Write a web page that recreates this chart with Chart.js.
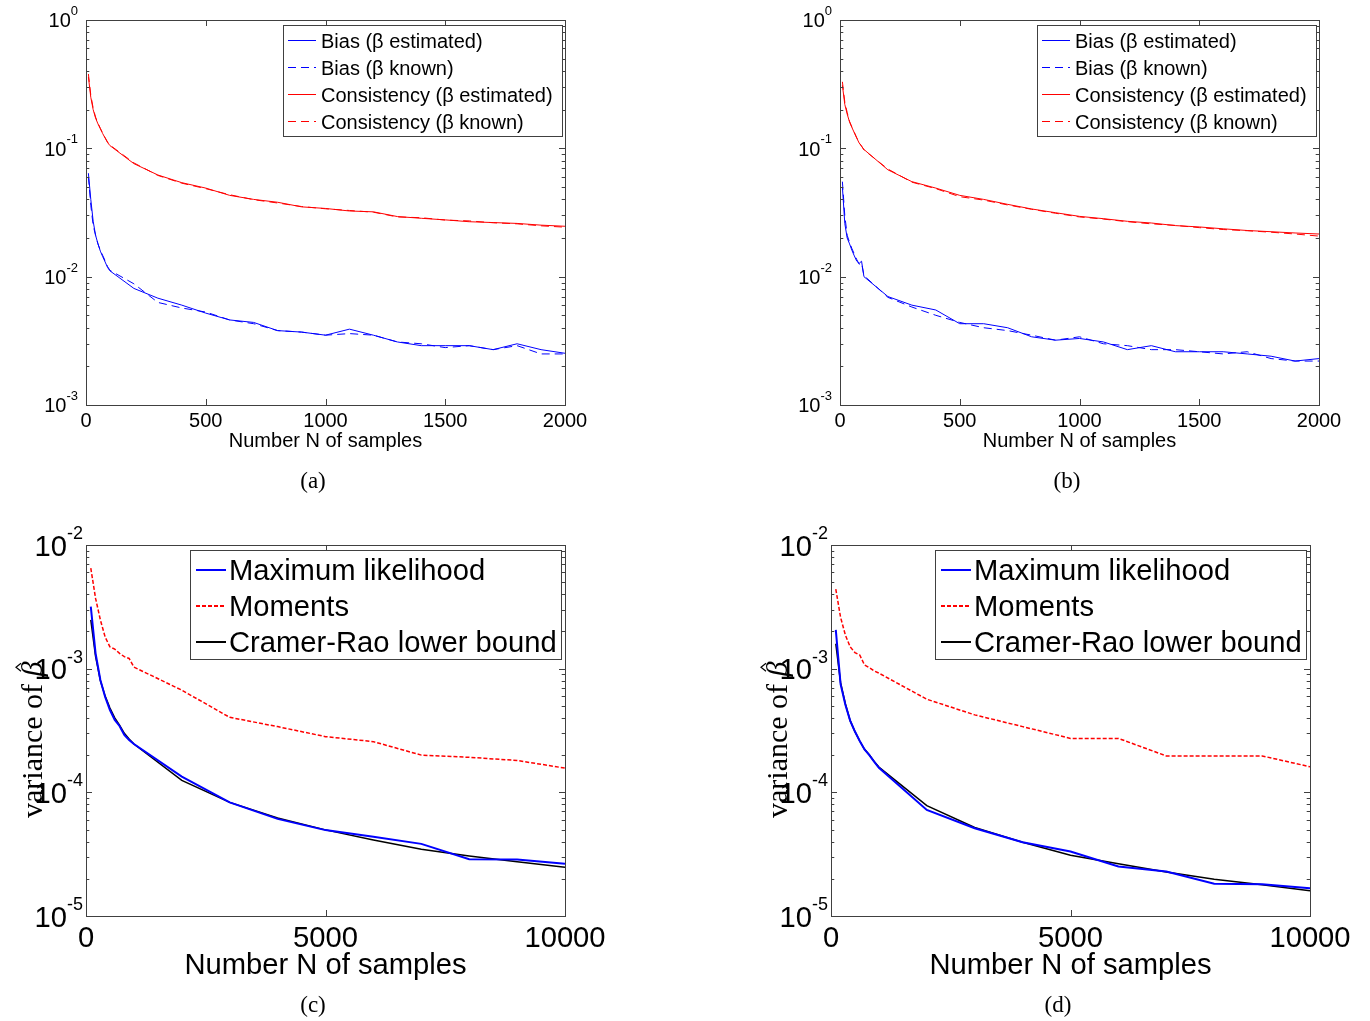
<!DOCTYPE html>
<html>
<head>
<meta charset="utf-8">
<script src="https://cdn.jsdelivr.net/npm/chart.js@4.4.1/dist/chart.umd.min.js"></script>
<style>
  body { margin: 0; background: #fff; width: 1370px; height: 1021px; position: relative; overflow: hidden; }
  canvas { position: absolute; }
  .cap { position: absolute; font-family: "Liberation Serif", "Times New Roman", serif; font-size: 23px; transform: translateX(-50%); line-height: 26px; }
</style>
</head>
<body>
<canvas id="pa" width="685" height="500" style="left:0;top:0"></canvas>
<canvas id="pb" width="685" height="500" style="left:685px;top:0"></canvas>
<canvas id="pc" width="685" height="521" style="left:0;top:500px"></canvas>
<canvas id="pd" width="685" height="521" style="left:685px;top:500px"></canvas>
<div class="cap" style="left:313px;top:468px">(a)</div>
<div class="cap" style="left:1067px;top:468px">(b)</div>
<div class="cap" style="left:313px;top:992px">(c)</div>
<div class="cap" style="left:1058px;top:992px">(d)</div>
<script>
// số mẫu N cho hình (a), (b)
const nAB = [10, 20, 30, 40, 50, 60, 70, 80, 90, 100, 200, 300, 400, 500, 600, 700, 800, 900, 1000,
  1100, 1200, 1300, 1400, 1500, 1600, 1700, 1800, 1900, 2000];

const biasEstA = [0.064, 0.040, 0.027, 0.021, 0.018, 0.0158, 0.0143, 0.013, 0.0118, 0.0111,
  0.0081, 0.0068, 0.0060, 0.0052, 0.0046, 0.0044, 0.0038, 0.0037, 0.0035,
  0.0039, 0.0035, 0.0031, 0.0029, 0.0029, 0.0029, 0.0027, 0.0030, 0.0027, 0.00253];
const biasKnownA = [0.060, 0.036, 0.025, 0.021, 0.018, 0.016, 0.0146, 0.0133, 0.012, 0.0112,
  0.0088, 0.0063, 0.0057, 0.0053, 0.0046, 0.0043, 0.0038, 0.0037, 0.0035,
  0.0036, 0.0035, 0.0031, 0.0030, 0.0028, 0.0029, 0.0027, 0.0029, 0.0025, 0.0025];
const consEstA = [0.36, 0.25, 0.20, 0.172, 0.155, 0.142, 0.13, 0.12, 0.111, 0.105,
  0.076, 0.062, 0.054, 0.049, 0.043, 0.040, 0.038, 0.035, 0.034,
  0.0325, 0.032, 0.0294, 0.0285, 0.0277, 0.0268, 0.0264, 0.026, 0.0252, 0.0247];
const consKnownA = [0.38, 0.26, 0.205, 0.175, 0.157, 0.143, 0.131, 0.121, 0.112, 0.106,
  0.077, 0.0615, 0.0535, 0.0485, 0.0435, 0.0398, 0.0375, 0.0352, 0.0338,
  0.0328, 0.0318, 0.0292, 0.0288, 0.0276, 0.0272, 0.0263, 0.0258, 0.0249, 0.0243];

const biasEstB = [0.050, 0.026, 0.020, 0.018, 0.016, 0.0145, 0.0132, 0.0127, 0.0132, 0.0100,
  0.0070, 0.0060, 0.0055, 0.0043, 0.0043, 0.0040, 0.0034, 0.0032, 0.0033,
  0.0031, 0.0027, 0.0029, 0.0026, 0.0026, 0.0026, 0.0025, 0.0024, 0.0022, 0.0023];
const biasKnownB = [0.055, 0.030, 0.021, 0.0185, 0.0165, 0.015, 0.0136, 0.0125, 0.0128, 0.0102,
  0.0069, 0.0058, 0.0050, 0.0044, 0.0040, 0.0038, 0.0035, 0.0032, 0.0034,
  0.0030, 0.0029, 0.0027, 0.0027, 0.0026, 0.0025, 0.0026, 0.0023, 0.0022, 0.0022];
const consEstB = [0.31, 0.22, 0.185, 0.16, 0.145, 0.132, 0.12, 0.11, 0.104, 0.098,
  0.068, 0.055, 0.049, 0.043, 0.040, 0.0366, 0.0337, 0.0315, 0.0295,
  0.0283, 0.0270, 0.0262, 0.0250, 0.0244, 0.0236, 0.0229, 0.0224, 0.0219, 0.0215];
const consKnownB = [0.33, 0.23, 0.19, 0.162, 0.146, 0.133, 0.121, 0.111, 0.104, 0.097,
  0.069, 0.0545, 0.0485, 0.042, 0.0395, 0.0362, 0.0335, 0.0312, 0.0292,
  0.0281, 0.0268, 0.0258, 0.0251, 0.0241, 0.0233, 0.0228, 0.0222, 0.0215, 0.0207];

// số mẫu N cho hình (c), (d)
const nCD = [100, 200, 300, 400, 500, 600, 700, 800, 900, 1000, 2000, 3000, 4000, 5000, 6000, 7000, 8000, 9000, 10000];

const mlC = [0.00317, 0.00133, 0.00081, 0.00059, 0.000463, 0.000385, 0.000344, 0.000291, 0.000265, 0.000246,
  0.000134, 0.000083, 0.000061, 0.0000495, 0.0000438, 0.0000383, 0.0000288, 0.0000286, 0.0000264];
const momC = [0.0065, 0.0037, 0.00248, 0.0018, 0.0015, 0.00144, 0.00133, 0.00125, 0.00121, 0.00103,
  0.00067, 0.000404, 0.00034, 0.000282, 0.000257, 0.0002, 0.000192, 0.000181, 0.000157];
const crlbC = [0.00248, 0.00126, 0.00080, 0.00060, 0.00048, 0.00040, 0.00035, 0.00030, 0.00027, 0.000246,
  0.000125, 0.000083, 0.000062, 0.0000497, 0.0000412, 0.0000347, 0.0000306, 0.0000275, 0.0000248];

const mlD = [0.00206, 0.00075, 0.00051, 0.00038, 0.00031, 0.00026, 0.000222, 0.0002, 0.000177, 0.000158,
  0.000072, 0.0000513, 0.0000395, 0.0000332, 0.0000251, 0.0000229, 0.0000182, 0.0000181, 0.0000168];
const momD = [0.0044, 0.0026, 0.00187, 0.0015, 0.00135, 0.00129, 0.00107, 0.00102, 0.00096, 0.00092,
  0.000566, 0.000423, 0.00034, 0.000273, 0.000273, 0.000197, 0.000197, 0.000197, 0.000161];
const crlbD = [0.00159, 0.00077, 0.00052, 0.00038, 0.00031, 0.00026, 0.000223, 0.000201, 0.000178, 0.00016,
  0.000078, 0.000052, 0.0000395, 0.000031, 0.0000264, 0.0000227, 0.0000198, 0.0000179, 0.000016];

// nhãn trục
const xTicksAB = [0, 500, 1000, 1500, 2000];
const xTicksCD = [0, 5000, 10000];
const yExpAB = [0, -1, -2, -3];
const yExpCD = [-2, -3, -4, -5];
const xTitle = 'Number N of samples';
const yTitleText = 'variance of ';
const yTitleSym = 'β';

const SANS = '"Liberation Sans", Arial, sans-serif';
const SERIF = '"Liberation Serif", "Times New Roman", serif';

// vẽ khung kiểu MATLAB, vạch chia, nhãn và chú thích
const matlabAxes = {
  id: 'matlabAxes',
  afterDraw(chart, args, o) {
    const { ctx, chartArea: a, scales } = chart;
    const xs = scales.x, ys = scales.y;
    ctx.save();
    ctx.globalAlpha = 1;
    ctx.strokeStyle = '#404040';
    ctx.lineWidth = 1;
    ctx.setLineDash([]);
    ctx.strokeRect(a.left + 0.5, a.top + 0.5, a.right - a.left, a.bottom - a.top);

    ctx.beginPath();
    for (const v of o.xTicks) {
      const px = Math.round(xs.getPixelForValue(v)) + 0.5;
      ctx.moveTo(px, a.bottom); ctx.lineTo(px, a.bottom - o.tick);
      ctx.moveTo(px, a.top); ctx.lineTo(px, a.top + o.tick);
    }
    const eMin = Math.min(...o.yExp), eMax = Math.max(...o.yExp);
    for (let e = eMin; e <= eMax; e++) {
      for (let m = 1; m <= (e === eMax ? 1 : 9); m++) {
        const py = Math.round(ys.getPixelForValue(m * Math.pow(10, e))) + 0.5;
        const len = m === 1 ? o.tick : o.tick * 0.55;
        ctx.moveTo(a.left, py); ctx.lineTo(a.left + len, py);
        ctx.moveTo(a.right, py); ctx.lineTo(a.right - len, py);
      }
    }
    ctx.stroke();

    // nhãn trục x
    ctx.fillStyle = '#000';
    ctx.textBaseline = 'alphabetic';
    ctx.textAlign = 'center';
    ctx.font = `${o.fs}px ${SANS}`;
    for (const v of o.xTicks) ctx.fillText(String(v), xs.getPixelForValue(v), a.bottom + o.xLabelDy);
    ctx.fillText(xTitle, (a.left + a.right) / 2, a.bottom + o.xTitleDy);

    // nhãn trục y: 10 mũ e
    ctx.textAlign = 'right';
    for (const e of o.yExp) {
      const py = ys.getPixelForValue(Math.pow(10, e));
      const ex = String(e);
      ctx.font = `${o.efs}px ${SANS}`;
      const ew = ctx.measureText(ex).width;
      ctx.fillText(ex, a.left - o.yGap, py - o.eDy);
      ctx.font = `${o.fs}px ${SANS}`;
      ctx.fillText('10', a.left - o.yGap - ew, py + o.fs * 0.36);
    }

    // tiêu đề trục y (c), (d): variance of beta mũ
    if (o.yTitle) {
      const t = o.yTitle;
      ctx.save();
      ctx.translate(a.left - t.dx, a.top + t.dy);
      ctx.rotate(-Math.PI / 2);
      ctx.textAlign = 'left';
      ctx.font = `${t.fs}px ${SERIF}`;
      ctx.fillText(yTitleText, 0, 0);
      const w = ctx.measureText(yTitleText).width;
      ctx.font = `italic ${t.fs}px ${SERIF}`;
      ctx.fillText(yTitleSym, w, 0);
      const bw = ctx.measureText(yTitleSym).width;
      // dấu mũ trên beta
      const hx = w + bw * 0.62, hy = -t.fs * 0.8;
      ctx.strokeStyle = '#000';
      ctx.lineWidth = 1.2;
      ctx.beginPath();
      ctx.moveTo(hx - 4, hy + 3); ctx.lineTo(hx, hy - 2); ctx.lineTo(hx + 4, hy + 3);
      ctx.stroke();
      ctx.restore();
    }

    // chú thích
    const L = o.legend;
    const lx = a.right - L.right - L.w, ly = a.top + L.top;
    ctx.fillStyle = '#fff';
    ctx.fillRect(lx, ly, L.w, L.h);
    ctx.strokeStyle = '#404040';
    ctx.lineWidth = 1;
    ctx.strokeRect(lx + 0.5, ly + 0.5, L.w, L.h);
    chart.data.datasets.forEach((ds, i) => {
      const cy = Math.round(ly + L.first + i * L.step);
      const x0 = lx + L.s0, x1 = lx + L.s1;
      const dash = ds.borderDash && ds.borderDash.length ? ds.borderDash : null;
      const h = Math.max(1, Math.round(ds.borderWidth));
      ctx.fillStyle = ds.borderColor;
      if (!dash) {
        ctx.fillRect(x0, cy, x1 - x0, h);
      } else {
        for (let x = x0; x < x1; x += dash[0] + dash[1]) {
          ctx.fillRect(x, cy, Math.min(dash[0], x1 - x), h);
        }
      }
      ctx.fillStyle = '#000';
      ctx.textAlign = 'left';
      ctx.font = `${o.fs}px ${SANS}`;
      ctx.fillText(ds.label, lx + L.tx, cy + 0.5 + o.fs * 0.36);
    });
    ctx.restore();
  }
};

function series(label, xs, ys, color, width, dash) {
  return {
    label,
    data: xs.map((x, i) => ({ x, y: ys[i] })),
    borderColor: color,
    borderWidth: width,
    borderDash: dash || [],
    pointRadius: 0,
    tension: 0,
    fill: false,
  };
}

function panel(id, datasets, pad, xMax, yMin, yMax, axes) {
  new Chart(document.getElementById(id), {
    type: 'line',
    data: { datasets },
    options: {
      responsive: false,
      animation: false,
      devicePixelRatio: 1,
      layout: { padding: pad },
      plugins: { legend: { display: false }, tooltip: { enabled: false }, matlabAxes: axes },
      scales: {
        x: { type: 'linear', min: 0, max: xMax, display: false },
        y: { type: 'logarithmic', min: yMin, max: yMax, display: false },
      },
    },
    plugins: [matlabAxes],
  });
}

const legendAB = { right: 3, top: 5, w: 279, h: 111, first: 15, step: 27, s0: 5, s1: 33, tx: 38 };
const legendCD = { right: 4, top: 5, w: 371, h: 109, first: 19, step: 36, s0: 6, s1: 36, tx: 39 };
const axesAB = { xTicks: xTicksAB, yExp: yExpAB, tick: 6, fs: 20, efs: 13, eDy: 5, yGap: 8, xLabelDy: 22, xTitleDy: 42, legend: legendAB };
const axesCD = { xTicks: xTicksCD, yExp: yExpCD, tick: 6, fs: 29.2, efs: 18, eDy: 6, yGap: 3, xLabelDy: 31, xTitleDy: 58, legend: legendCD,
  yTitle: { dx: 44, dy: 273, fs: 30 } };

panel('pa', [
  series('Bias (β estimated)', nAB, biasEstA, '#0000ff', 1),
  series('Bias (β known)', nAB, biasKnownA, '#0000ff', 1, [8, 5]),
  series('Consistency (β estimated)', nAB, consEstA, '#ff0000', 1),
  series('Consistency (β known)', nAB, consKnownA, '#ff0000', 1, [8, 5]),
], { left: 86, top: 20, right: 120, bottom: 95 }, 2000, 1e-3, 1, axesAB);

panel('pb', [
  series('Bias (β estimated)', nAB, biasEstB, '#0000ff', 1),
  series('Bias (β known)', nAB, biasKnownB, '#0000ff', 1, [8, 5]),
  series('Consistency (β estimated)', nAB, consEstB, '#ff0000', 1),
  series('Consistency (β known)', nAB, consKnownB, '#ff0000', 1, [8, 5]),
], { left: 155, top: 20, right: 51, bottom: 95 }, 2000, 1e-3, 1, axesAB);

panel('pc', [
  series('Maximum likelihood', nCD, mlC, '#0000ff', 2),
  series('Moments', nCD, momC, '#ff0000', 1.5, [4, 2]),
  series('Cramer-Rao lower bound', nCD, crlbC, '#000000', 1.5),
], { left: 86, top: 45, right: 120, bottom: 105 }, 10000, 1e-5, 1e-2, axesCD);

panel('pd', [
  series('Maximum likelihood', nCD, mlD, '#0000ff', 2),
  series('Moments', nCD, momD, '#ff0000', 1.5, [4, 2]),
  series('Cramer-Rao lower bound', nCD, crlbD, '#000000', 1.5),
], { left: 146, top: 45, right: 60, bottom: 105 }, 10000, 1e-5, 1e-2, axesCD);
</script>
</body>
</html>
